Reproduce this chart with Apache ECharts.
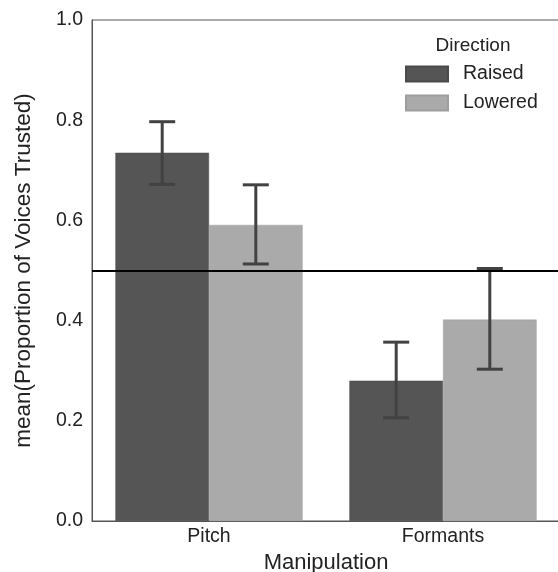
<!DOCTYPE html>
<html><head><meta charset="utf-8">
<script src="https://cdn.jsdelivr.net/npm/echarts@6/dist/echarts.min.js"></script>
<style>html,body{margin:0;padding:0;background:#fff}#c{width:558px;height:572px}</style>
</head><body><div id="c"></div>
<script>
const categories = ['Pitch', 'Formants'];
const seriesNames = ['Raised', 'Lowered'];
const raisedMeans = [0.735, 0.280];
const loweredMeans = [0.591, 0.402];
const raisedCI = [[0.672, 0.797], [0.206, 0.357]];
const loweredCI = [[0.513, 0.671], [0.303, 0.504]];
const referenceLine = 0.5;

const FONT = 'Liberation Sans, Arial, sans-serif';
const chart = echarts.init(document.getElementById('c'));

function errSeries(ci, sideIdx) {
  return {
    type: 'custom',
    name: seriesNames[sideIdx] + ' CI',
    z: 5,
    data: ci.map((d, i) => [i, d[0], d[1]]),
    renderItem: function (params, api) {
      const band = api.size([1, 0])[0];
      const off = (sideIdx === 0 ? -1 : 1) * band * 0.2;
      const lo = api.coord([api.value(0), api.value(1)]);
      const hi = api.coord([api.value(0), api.value(2)]);
      const x = lo[0] + off;
      const cap = 13;
      const st = { stroke: '#424242', lineWidth: 3 };
      return {
        type: 'group',
        children: [
          { type: 'line', shape: { x1: x, y1: lo[1], x2: x, y2: hi[1] }, style: st },
          { type: 'line', shape: { x1: x - cap, y1: lo[1], x2: x + cap, y2: lo[1] }, style: st },
          { type: 'line', shape: { x1: x - cap, y1: hi[1], x2: x + cap, y2: hi[1] }, style: st }
        ]
      };
    }
  };
}

chart.setOption({
  animation: false,
  backgroundColor: '#fff',
  grid: { left: 92, top: 20, width: 468, height: 501, show: true, borderColor: '#555', borderWidth: 1,
          backgroundColor: 'transparent', containLabel: false, outerBoundsMode: 'none' },
  legend: {
    data: seriesNames,
    orient: 'vertical',
    left: 405, top: 64, padding: 0,
    itemWidth: 42, itemHeight: 15, itemGap: 9,
    textStyle: { fontFamily: FONT, fontSize: 19.5, lineHeight: 20, color: '#222', padding: [0, 0, 0, 10] },
    icon: 'rect'
  },
  graphic: [{
    type: 'text', x: 473, y: 46,
    style: { text: 'Direction', font: '19px ' + FONT, fill: '#222', textAlign: 'center', textVerticalAlign: 'middle' }
  }],
  xAxis: {
    type: 'category', data: categories,
    axisLine: { show: true, lineStyle: { color: '#555', width: 1 } },
    axisTick: { show: false },
    axisLabel: { fontFamily: FONT, fontSize: 19.5, color: '#222', margin: 6 },
    name: 'Manipulation', nameLocation: 'middle', nameGap: 29,
    nameTextStyle: { fontFamily: FONT, fontSize: 22, color: '#222' }
  },
  yAxis: {
    type: 'value', min: 0, max: 1, interval: 0.2,
    axisLine: { show: true, lineStyle: { color: '#555', width: 1 } },
    axisTick: { show: false },
    splitLine: { show: false },
    axisLabel: { fontFamily: FONT, fontSize: 19.5, color: '#222', margin: 9, formatter: v => v.toFixed(1) },
    name: 'mean(Proportion of Voices Trusted)', nameLocation: 'middle', nameGap: 57,
    nameTextStyle: { fontFamily: FONT, fontSize: 22.5, color: '#222' }
  },
  series: [
    {
      type: 'bar', name: seriesNames[0], data: raisedMeans,
      barGap: '0%', barCategoryGap: '20%',
      itemStyle: { color: '#555555', borderColor: '#4a4a4a', borderWidth: 0.5 },
      markLine: {
        silent: true, symbol: 'none', label: { show: false },
        lineStyle: { color: '#000', width: 2, type: 'solid' },
        data: [{ yAxis: referenceLine }],
        z: 10
      }
    },
    {
      type: 'bar', name: seriesNames[1], data: loweredMeans,
      itemStyle: { color: '#aaaaaa', borderColor: '#9e9e9e', borderWidth: 0.5 }
    },
    errSeries(raisedCI, 0),
    errSeries(loweredCI, 1)
  ]
});
</script></body></html>
